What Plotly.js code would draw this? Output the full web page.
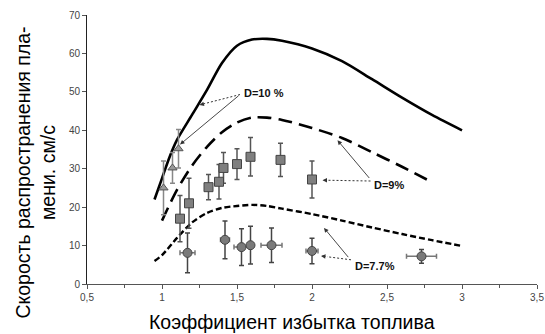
<!DOCTYPE html>
<html>
<head>
<meta charset="utf-8">
<script src="https://cdn.plot.ly/plotly-3.0.1.min.js"></script>
<style>
  html, body { margin: 0; padding: 0; background: #fff; }
  #chart { width: 545px; height: 334px; }
</style>
</head>
<body>
<div id="chart"></div>
<script>
// Calculated flame speed curves for three dust concentrations
const curveX10 = [0.95, 1.0, 1.05, 1.1, 1.2, 1.3, 1.4, 1.5, 1.6, 1.7, 1.8, 2.0, 2.2, 2.4, 2.6, 2.8, 3.0];
const curveY10 = [22, 27.5, 33, 37.5, 44, 50.5, 57.5, 62, 63.6, 63.8, 63.3, 61.3, 58, 53.3, 48.5, 44, 40];

const curveX9 = [1.0, 1.1, 1.2, 1.3, 1.4, 1.5, 1.6, 1.7, 1.8, 2.0, 2.2, 2.4, 2.6, 2.8];
const curveY9 = [16.5, 24.5, 30.8, 35.7, 39.5, 42, 43.3, 43.3, 42.7, 40.6, 38, 34.3, 30.5, 26.5];

const curveX77 = [0.95, 1.0, 1.1, 1.2, 1.3, 1.4, 1.5, 1.6, 1.7, 1.8, 2.0, 2.2, 2.4, 2.6, 2.8, 3.0];
const curveY77 = [6, 7.5, 12, 16, 18.5, 19.8, 20.3, 20.6, 20.3, 19.6, 18.2, 16.5, 14.7, 13, 11.4, 9.9];

// Measured points with error bars
const expX10 = [1.01, 1.07, 1.11];
const expY10 = [25, 30.2, 35.2];
const expErr10 = [7, 4, 5];

const expX9 = [1.12, 1.18, 1.31, 1.38, 1.41, 1.5, 1.59, 1.79, 2.0];
const expY9 = [17, 21, 25.2, 26.6, 30.2, 31.2, 33.1, 32.3, 27.2];
const expErr9 = [6, 6.5, 3.3, 4.5, 4, 4, 5, 4.3, 4.8];

const expX77 = [1.17, 1.42, 1.53, 1.59, 1.73, 2.0, 2.73];
const expY77 = [8.1, 11.5, 9.6, 10.1, 10.1, 8.6, 7.2];
const expErr77 = [5.2, 4.9, 4.8, 4.9, 4.5, 3.3, 1.8];
const expErrX77 = [0.05, 0.03, 0.05, 0.0, 0.07, 0.04, 0.1];

const xTitle = 'Коэффициент избытка топлива';
const yTitle = 'Скорость распространения пла-<br>мени. см/с';
const labels = ['D=10 %', 'D=9%', 'D=7.7%'];

const errStyle = (arr, color) => ({ type: 'data', array: arr, visible: true, color: color, thickness: 1.5, width: 2.5 });

const traces = [
  { x: curveX10, y: curveY10, mode: 'lines', line: { color: '#000', width: 2.6, shape: 'spline', smoothing: 0.8 }, hoverinfo: 'skip' },
  { x: curveX9, y: curveY9, mode: 'lines', line: { color: '#000', width: 2.6, dash: '14px,7px', shape: 'spline', smoothing: 0.8 }, hoverinfo: 'skip' },
  { x: curveX77, y: curveY77, mode: 'lines', line: { color: '#000', width: 2.4, dash: '6px,3px', shape: 'spline', smoothing: 0.8 }, hoverinfo: 'skip' },
  { x: expX10, y: expY10, mode: 'markers', error_y: errStyle(expErr10, '#888'),
    marker: { symbol: 'triangle-up', size: 8, color: '#9a9a9a', line: { color: '#555', width: 1 } } },
  { x: expX9, y: expY9, mode: 'markers', error_y: errStyle(expErr9, '#555'),
    marker: { symbol: 'square', size: 9, color: '#7f7f7f', line: { color: '#444', width: 1 } } },
  { x: expX77, y: expY77, mode: 'markers', error_y: errStyle(expErr77, '#444'), error_x: errStyle(expErrX77, '#777'),
    marker: { symbol: 'circle', size: 9, color: '#7a7a7a', line: { color: '#444', width: 1 } } }
];

const arrow = (x, y, ax, ay) => ({
  x: x, y: y, ax: ax, ay: ay, xref: 'x', yref: 'y', axref: 'x', ayref: 'y',
  text: '', showarrow: true, arrowhead: 2, arrowsize: 1, arrowwidth: 0.9, arrowcolor: '#333'
});
const dotted = (x0, y0, x1, y1) => ({
  type: 'line', xref: 'x', yref: 'y', x0: x0, y0: y0, x1: x1, y1: y1,
  line: { color: '#333', width: 1, dash: '2px,2px' }
});
const textFont = { family: 'Liberation Sans, Arial, sans-serif', size: 11, color: '#111' };
const titleFont = { family: 'Liberation Sans, Arial, sans-serif', size: 19.5, color: '#000' };

const layout = {
  width: 545, height: 334,
  margin: { l: 87, r: 8, t: 15, b: 50 },
  paper_bgcolor: '#fff', plot_bgcolor: '#fff',
  showlegend: false,
  separators: ', ',
  font: { family: 'Liberation Sans, Arial, sans-serif', color: '#000' },
  xaxis: {
    range: [0.5, 3.5], dtick: 0.5, tick0: 0.5, ticks: 'outside', ticklen: 4, tickcolor: '#555',
    showline: true, linecolor: '#555', linewidth: 1, showgrid: false, zeroline: false,
    tickfont: { size: 10, color: '#444' },
    minor: { dtick: 0.25, ticks: 'outside', ticklen: 3, tickcolor: '#555', showgrid: false }
  },
  yaxis: {
    range: [0, 70], dtick: 10, ticks: 'outside', ticklen: 4, tickcolor: '#555',
    showline: true, linecolor: '#222', linewidth: 1, showgrid: false, zeroline: false,
    tickfont: { size: 10, color: '#444' }
  },
  shapes: [
    dotted(1.52, 49.3, 1.27, 46.8),
    dotted(2.39, 26.8, 2.1, 27),
    dotted(2.26, 6.3, 2.1, 7.1)
  ],
  annotations: [
    { text: '<b>' + labels[0] + '</b>', x: 1.53, y: 49.8, xref: 'x', yref: 'y', xanchor: 'left', yanchor: 'middle', showarrow: false, font: textFont },
    { text: '<b>' + labels[1] + '</b>', x: 2.4, y: 25.8, xref: 'x', yref: 'y', xanchor: 'left', yanchor: 'middle', showarrow: false, font: textFont },
    { text: '<b>' + labels[2] + '</b>', x: 2.27, y: 4.8, xref: 'x', yref: 'y', xanchor: 'left', yanchor: 'middle', showarrow: false, font: textFont },
    arrow(1.25, 46.6, 1.28, 46.9),
    arrow(1.12, 36.3, 1.52, 49.3),
    arrow(2.07, 27, 2.11, 27),
    arrow(2.17, 37.4, 2.39, 27.2),
    arrow(2.08, 14.6, 2.25, 6.6),
    arrow(2.06, 7.3, 2.1, 7.1),
    { text: yTitle, xref: 'paper', yref: 'paper', x: -0.114, y: 0.413, xanchor: 'center', yanchor: 'middle',
      textangle: -90, showarrow: false, font: titleFont },
    { text: xTitle, xref: 'paper', yref: 'paper', x: 0.456, y: -0.141, xanchor: 'center', yanchor: 'middle',
      showarrow: false, font: titleFont }
  ]
};

Plotly.newPlot('chart', traces, layout, { staticPlot: true, displayModeBar: false });
</script>
</body>
</html>
